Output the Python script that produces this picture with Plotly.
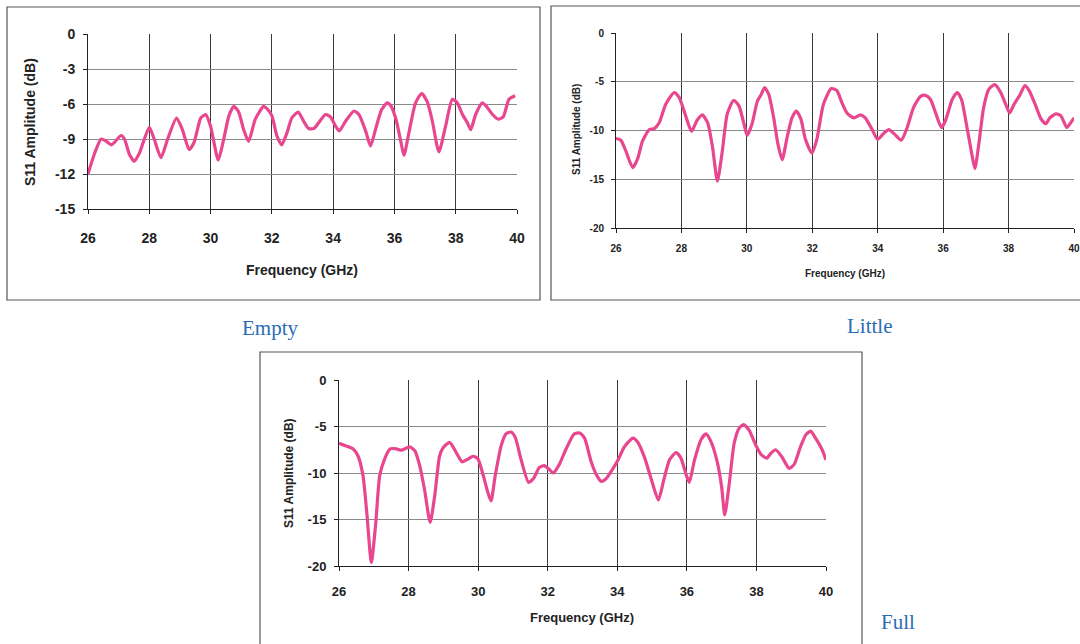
import plotly.graph_objects as go

# ---------------- data ----------------
empty_f = [26.0, 26.22, 26.43, 26.6, 26.76, 26.86, 27.08, 27.19, 27.35, 27.51, 27.68, 28.0, 28.16, 28.38,
           28.6, 28.89, 29.08, 29.3, 29.46, 29.68, 29.84, 30.0, 30.25, 30.43, 30.6, 30.76, 30.92, 31.08,
           31.24, 31.46, 31.73, 31.84, 32.0, 32.16, 32.32, 32.49, 32.65, 32.86, 33.04, 33.2, 33.37, 33.53,
           33.75, 33.91, 34.08, 34.2, 34.4, 34.68, 34.84, 35.06, 35.22, 35.38, 35.58, 35.76, 35.87, 36.04,
           36.2, 36.31, 36.47, 36.69, 36.89, 37.07, 37.24, 37.45, 37.67, 37.89, 38.05, 38.22, 38.38, 38.49,
           38.65, 38.87, 39.03, 39.2, 39.39, 39.55, 39.74, 39.94]
empty_db = [-12.0, -10.2, -9.0, -9.2, -9.5, -9.3, -8.7, -9.0, -10.3, -10.9, -10.2, -8.0, -9.0, -10.6,
            -9.0, -7.2, -8.2, -9.9, -9.3, -7.2, -6.9, -7.9, -10.8, -9.0, -7.0, -6.2, -6.7, -8.2,
            -9.2, -7.3, -6.2, -6.4, -7.0, -8.7, -9.5, -8.5, -7.2, -6.7, -7.5, -8.1, -8.1, -7.6,
            -6.9, -7.1, -7.9, -8.3, -7.5, -6.6, -6.9, -8.3, -9.6, -8.2, -6.5, -5.9, -6.1, -7.2,
            -9.1, -10.4, -8.5, -5.9, -5.1, -5.8, -7.5, -10.1, -7.9, -5.6, -5.9, -6.9, -7.6, -8.2,
            -6.9, -5.9, -6.3, -6.9, -7.3, -7.1, -5.6, -5.3]

little_f = [26.0, 26.15, 26.3, 26.51, 26.66, 26.81, 27.02, 27.17, 27.32, 27.52, 27.78, 27.93, 28.13, 28.31,
            28.47, 28.64, 28.8, 28.95, 29.1, 29.25, 29.4, 29.6, 29.76, 29.91, 30.01, 30.16, 30.32, 30.44,
            30.54, 30.67, 30.82, 30.95, 31.08, 31.23, 31.38, 31.51, 31.65, 31.79, 31.99, 32.14, 32.34,
            32.58, 32.75, 32.9, 33.06, 33.27, 33.47, 33.62, 33.83, 34.0, 34.18, 34.34, 34.52, 34.72, 34.9,
            35.1, 35.31, 35.46, 35.61, 35.77, 35.95, 36.07, 36.28, 36.43, 36.56, 36.73, 36.87, 36.97,
            37.09, 37.24, 37.4, 37.58, 37.76, 37.91, 38.03, 38.17, 38.34, 38.5, 38.63, 38.81, 38.99,
            39.14, 39.26, 39.45, 39.6, 39.78, 39.9, 40.0]
little_db = [-10.8, -11.0, -12.1, -13.8, -12.9, -11.1, -9.9, -9.8, -9.2, -7.3, -6.1, -6.6, -8.5, -10.1,
             -9.0, -8.4, -9.2, -11.7, -15.2, -12.1, -8.3, -6.9, -7.5, -9.3, -10.5, -9.3, -7.0, -6.3,
             -5.6, -6.3, -8.7, -11.4, -13.0, -10.7, -8.7, -8.0, -8.8, -10.9, -12.3, -10.9, -7.3,
             -5.7, -5.9, -7.1, -8.2, -8.7, -8.4, -8.7, -9.9, -10.9, -10.3, -9.9, -10.4, -11.0, -9.7,
             -7.6, -6.5, -6.4, -6.8, -8.2, -9.7, -9.0, -6.8, -6.1, -6.8, -9.7, -12.3, -13.9,
             -11.4, -7.6, -5.75, -5.3, -6.1, -7.3, -8.2, -7.3, -6.4, -5.4, -5.9, -7.3, -8.8,
             -9.3, -8.7, -8.3, -8.5, -9.7, -9.2, -8.7]

full_f = [26.0, 26.21, 26.4, 26.55, 26.69, 26.8, 26.93, 27.05, 27.17, 27.31, 27.47, 27.65, 27.79, 28.03,
          28.18, 28.32, 28.46, 28.62, 28.75, 28.89, 28.99, 29.18, 29.37, 29.54, 29.71, 29.85, 29.99,
          30.15, 30.28, 30.37, 30.49, 30.66, 30.8, 30.95, 31.07, 31.23, 31.45, 31.59, 31.76, 31.9,
          32.04, 32.16, 32.33, 32.53, 32.76, 32.92, 33.06, 33.25, 33.4, 33.54, 33.68, 33.88, 34.02,
          34.21, 34.45, 34.59, 34.79, 34.98, 35.18, 35.34, 35.5, 35.69, 35.83, 35.98, 36.07, 36.22,
          36.41, 36.55, 36.69, 36.88, 37.0, 37.09, 37.22, 37.36, 37.5, 37.63, 37.79, 37.98, 38.13,
          38.3, 38.41, 38.55, 38.72, 38.94, 39.08, 39.27, 39.42, 39.56, 39.7, 39.89, 40.0]
full_db = [-6.8, -7.1, -7.4, -8.2, -10.3, -14.3, -19.6, -15.7, -10.3, -8.5, -7.4, -7.4, -7.55, -7.2,
           -7.6, -9.2, -11.8, -15.3, -12.5, -8.2, -7.3, -6.7, -7.8, -8.8, -8.5, -8.2, -8.45,
           -10.3, -12.1, -13.0, -10.3, -7.1, -5.8, -5.6, -6.2, -8.5, -11.0, -10.6, -9.4, -9.2,
           -9.6, -10.0, -9.1, -7.4, -5.8, -5.7, -6.25, -8.8, -10.2, -10.9, -10.6, -9.5, -8.6,
           -7.15, -6.25, -6.7, -8.4, -10.7, -12.9, -10.7, -8.6, -7.8, -8.4, -10.2, -11.0, -8.6,
           -6.4, -5.8, -6.6, -8.9, -11.5, -14.5, -11.1, -6.8, -5.2, -4.8, -5.4, -7.0, -8.0,
           -8.4, -7.9, -7.5, -8.2, -9.5, -9.1, -7.15, -5.9, -5.5, -6.25, -7.5, -8.6]

x_ticks = [26, 28, 30, 32, 34, 36, 38, 40]
empty_yticks = [0, -3, -6, -9, -12, -15]
other_yticks = [0, -5, -10, -15, -20]
panel_names = ["Empty", "Little", "Full"]
x_title = "Frequency (GHz)"
y_title = "S11 Amplitude (dB)"

W, H = 1080, 644
LINE = "#e8468f"
XGRID = "#3a3a3a"
YGRID = "#8a8a8a"
FONT = "Liberation Sans"


def px(x):
    return x / W


def py(y):
    return 1 - y / H


fig = go.Figure()

panels = [
    dict(f=empty_f, db=empty_db, xd=(88, 517), yd=(34, 209), yr=[-15, 0], yt=empty_yticks,
         fs=14, xso=12, yso=5),
    dict(f=little_f, db=little_db, xd=(616, 1074), yd=(33, 228), yr=[-20, 0], yt=other_yticks,
         fs=10, xso=7, yso=5),
    dict(f=full_f, db=full_db, xd=(339, 826), yd=(380, 566), yr=[-20, 0], yt=other_yticks,
         fs=13, xso=9, yso=5),
]

layout = {}
for i, p in enumerate(panels, start=1):
    sfx = "" if i == 1 else str(i)
    fig.add_trace(go.Scatter(x=p["f"], y=p["db"], mode="lines",
                             line=dict(color=LINE, width=3.2, shape="spline", smoothing=0.6),
                             xaxis="x" + sfx, yaxis="y" + sfx, showlegend=False,
                             hoverinfo="skip"))
    layout["xaxis" + sfx] = dict(
        domain=[px(p["xd"][0]), px(p["xd"][1])], range=[26, 40], anchor="y" + sfx,
        automargin=False,
        tickvals=x_ticks, ticktext=[str(t) for t in x_ticks], showgrid=True, gridcolor=XGRID,
        gridwidth=1, showline=True, linecolor="#222", linewidth=1, ticks="outside", ticklen=4,
        tickcolor="#222", zeroline=False, ticklabelstandoff=p["xso"],
        tickfont=dict(family=FONT, size=p["fs"], color="#222", weight="bold"), fixedrange=True)
    layout["yaxis" + sfx] = dict(
        domain=[py(p["yd"][1]), py(p["yd"][0])], range=p["yr"], anchor="x" + sfx,
        automargin=False,
        tickvals=p["yt"], ticktext=[str(t) for t in p["yt"]], showgrid=True, gridcolor=YGRID,
        gridwidth=1, showline=True, linecolor="#222", linewidth=1, ticks="outside", ticklen=4,
        tickcolor="#222", zeroline=False, ticklabelstandoff=p["yso"],
        tickfont=dict(family=FONT, size=p["fs"], color="#222", weight="bold"), fixedrange=True)

shapes = []
# outer chart frames
for (x0, y0, x1, y1) in [(7, 7, 540, 300), (551, 6, 1090, 300), (260, 352, 862, 660)]:
    shapes.append(dict(type="rect", xref="paper", yref="paper", x0=px(x0), x1=px(x1),
                       y0=py(y1), y1=py(y0), line=dict(color="#555", width=1.2),
                       fillcolor="rgba(0,0,0,0)", layer="below"))

annotations = []
# axis titles
for (x, y, s) in [(30, 122, 14), (576, 130, 10), (289, 473, 12)]:
    annotations.append(dict(text=y_title, x=px(x), y=py(y), xref="paper", yref="paper",
                            xanchor="center", yanchor="middle",
                            showarrow=False, textangle=-90,
                            font=dict(family=FONT, size=s, color="#222", weight="bold")))
for (x, y, s) in [(302, 270, 14), (845, 273, 10), (582, 617, 13)]:
    annotations.append(dict(text=x_title, x=px(x), y=py(y), xref="paper", yref="paper",
                            xanchor="center", yanchor="middle", showarrow=False,
                            font=dict(family=FONT, size=s, color="#222", weight="bold")))
# panel captions
for name, (x, y) in zip(panel_names, [(270, 328), (870, 326), (898, 622)]):
    annotations.append(dict(text=name, x=px(x), y=py(y), xref="paper", yref="paper",
                            xanchor="center", yanchor="middle", showarrow=False,
                            font=dict(family="Liberation Serif", size=21, color="#2a6db5")))

fig.update_layout(width=W, height=H, margin=dict(l=0, r=0, t=0, b=0),
                  paper_bgcolor="white", plot_bgcolor="white", shapes=shapes,
                  annotations=annotations, showlegend=False, **layout)

fig.write_html("out.html", config={"displayModeBar": False})
